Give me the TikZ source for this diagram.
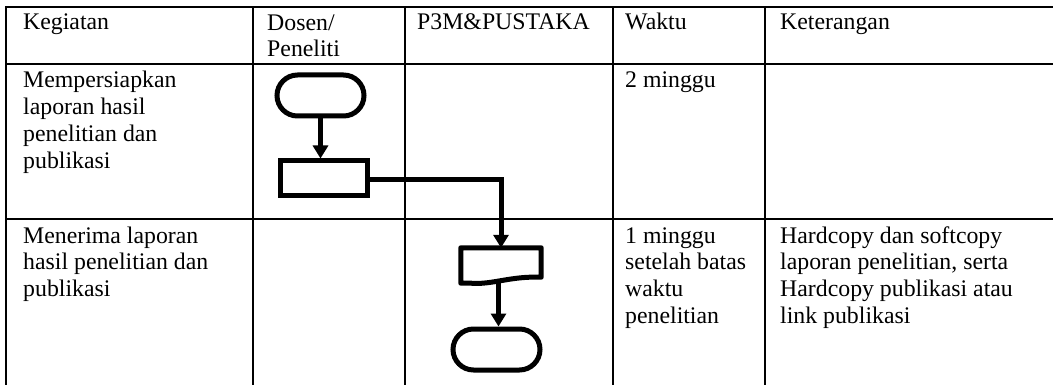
\documentclass[tikz,border=0pt]{standalone}
\usepackage{fontspec}
\setmainfont{Liberation Serif}
\usetikzlibrary{arrows.meta, positioning, calc}

\begin{document}
\begin{tikzpicture}[
    x=1pt, y=-1pt,
    >={Triangle[width=15pt,length=13pt]},
    font=\fontsize{23.8}{26.8}\selectfont
]
    % Styles (multi-line cells are anchored on their last baseline)
    \tikzset{
        tabline/.style={line width=2.4pt},
        sel/.style={anchor=base west, inner sep=0pt, align=left},
        terminal/.style={draw, line width=5pt, rectangle, rounded corners=20.5pt, minimum width=87pt, minimum height=41pt, inner sep=0pt},
        proses/.style={draw, line width=5pt, rectangle, minimum width=87pt, minimum height=35pt, inner sep=0pt},
        dokumen/.style={rectangle, minimum width=80pt, minimum height=35pt, inner sep=0pt},
        panah/.style={->, line width=5pt}
    }

    \useasboundingbox (0,0) rectangle (1053,385);

    % Table grid
    \foreach \yy in {7, 64, 219}
        \draw [tabline] (5,\yy) -- (1053,\yy);
    \foreach \xx in {6, 253, 405, 613, 765}
        \draw [tabline] (\xx,7) -- (\xx,385);

    % Header
    \node [sel] (hKegiatan) at (23,30) {Kegiatan};
    \node [sel] (hDosen) at (267,57) {Dosen/\\Peneliti};
    \node [sel] (hPustaka) at (417,30) {P3M\&PUSTAKA};
    \node [sel] (hWaktu) at (625,30) {Waktu};
    \node [sel] (hKet) at (780,30) {Keterangan};

    % Row 1
    \node [sel] (keg1) at (23,168.4) {Mempersiapkan\\laporan hasil\\penelitian dan\\publikasi};
    \node [sel] (waktu1) at (625,88) {2 minggu};

    % Row 2
    \node [sel] (keg2) at (23,296.6) {Menerima laporan\\hasil penelitian dan\\publikasi};
    \node [sel] (waktu2) at (625,323.4) {1 minggu\\setelah batas\\waktu\\penelitian};
    \node [sel] (ket2) at (780,323.4) {Hardcopy dan softcopy\\laporan penelitian, serta\\Hardcopy publikasi atau\\link publikasi};

    % Flow shapes
    \node [terminal] (mulai) at (320.5,95.5) {};
    \node [proses] (siapkan) at (323.5,178.5) {};
    \node [dokumen] (terima) at (501,265.5) {};
    \draw [line width=5pt, line join=round]
        (terima.south west) -- (terima.north west) -- (terima.north east)
        -- ($(terima.south east)+(0,-6)$)
        .. controls (510,276) and (492,285) .. ($(terima.south west)+(10,0)$)
        -- (terima.south west) -- cycle;
    \node [terminal] (selesai) at (496.5,349.5) {};

    % Connectors
    \draw [panah] (mulai.south) -- (siapkan.north -| mulai.south);
    \draw [line width=5pt, ->] (siapkan.east) -- ++(0,1.5) -| (terima.north);
    \draw [panah] (terima.south -| selesai.north) ++(2,0) -- ($(selesai.north)+(2,0)$);

\end{tikzpicture}
\end{document}
